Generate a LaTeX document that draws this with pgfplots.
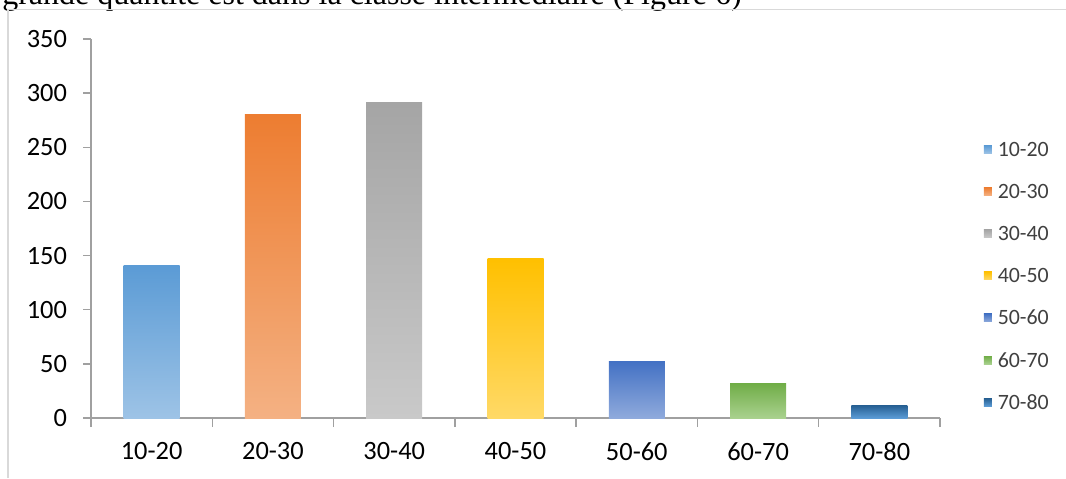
\documentclass[border=0pt]{standalone}
\usepackage{pgfplots}
\pgfplotsset{compat=1.18}
\usepackage{fontspec}
\setmainfont{Carlito}
\newfontfamily\serif{Liberation Serif}
\definecolor{axgray}{RGB}{160,160,160}
\definecolor{framegray}{RGB}{217,217,217}
\definecolor{legtext}{RGB}{64,64,64}
\definecolor{cAt}{RGB}{91,155,213}\definecolor{cAb}{RGB}{157,195,230}
\definecolor{cBt}{RGB}{237,125,49}\definecolor{cBb}{RGB}{244,177,131}
\definecolor{cCt}{RGB}{165,165,165}\definecolor{cCb}{RGB}{201,201,201}
\definecolor{cDt}{RGB}{255,192,0}\definecolor{cDb}{RGB}{255,217,102}
\definecolor{cEt}{RGB}{68,114,196}\definecolor{cEb}{RGB}{143,170,220}
\definecolor{cFt}{RGB}{112,173,71}\definecolor{cFb}{RGB}{169,209,142}
\definecolor{cGt}{RGB}{37,94,145}\definecolor{cGb}{RGB}{91,155,213}
\begin{document}
\begin{tikzpicture}
\useasboundingbox (0,0) rectangle (799.5pt,358.5pt);
\clip (0,0) rectangle (799.5pt,358.5pt);
\node[anchor=base west,inner sep=0pt,font=\serif\fontsize{24}{28}\selectfont] at (1.5pt,355pt) {grande quantité est dans la classe intermédiaire (Figure 6)};
\draw[framegray,line width=1.1pt] (6pt,0pt) -- (6pt,351.4pt) -- (799.5pt,351.4pt);
\begin{axis}[
  at={(68.25pt,45pt)}, anchor=south west,
  scale only axis, width=636.75pt, height=284.25pt,
  xmin=-0.5, xmax=6.5, ymin=0, ymax=350,
  axis lines*=left,
  axis line style={axgray,line width=1.1pt},
  tick style={axgray,line width=1.1pt},
  tick align=outside,
  major tick length=6pt,
  minor tick length=6.75pt,
  ytick={0,50,...,350},
  xtick={0,...,6},
  xticklabels={10-20,20-30,30-40,40-50,50-60,60-70,70-80},
  major x tick style={draw=none},
  minor xtick={-0.5,0.5,...,6.5},
  ticklabel style={font=\fontsize{19.8}{23}\selectfont, text=black},
  /pgf/number format/assume math mode=true,
  yticklabel style={xshift=-8.5pt},
  xticklabel style={yshift=-9pt},
  legend style={draw=none, fill=none, at={(1.0465,0.377)}, anchor=west,
    font=\fontsize{16.4}{18}\selectfont, text=legtext,
    nodes={inner sep=0pt, text height=11.5pt, text depth=0pt},
    row sep=20.1pt, column sep=0pt},
  legend cell align=left,
  legend image code/.code={\fill[#1,draw=none] (0pt,-3.5pt) rectangle (6pt,2.5pt); \path (10.5pt,0pt);},
]
\addplot[ybar, bar width=42pt, bar shift=0pt, draw=none, top color=cAt, bottom color=cAb] coordinates {(0,141)};
\addplot[ybar, bar width=42pt, bar shift=0pt, draw=none, top color=cBt, bottom color=cBb] coordinates {(1,280)};
\addplot[ybar, bar width=42pt, bar shift=0pt, draw=none, top color=cCt, bottom color=cCb] coordinates {(2,291)};
\addplot[ybar, bar width=42pt, bar shift=0pt, draw=none, top color=cDt, bottom color=cDb] coordinates {(3,147)};
\addplot[ybar, bar width=42pt, bar shift=0pt, draw=none, top color=cEt, bottom color=cEb] coordinates {(4,52)};
\addplot[ybar, bar width=42pt, bar shift=0pt, draw=none, top color=cFt, bottom color=cFb] coordinates {(5,32)};
\addplot[ybar, bar width=42pt, bar shift=0pt, draw=none, top color=cGt, bottom color=cGb] coordinates {(6,12)};
\legend{10-20,20-30,30-40,40-50,50-60,60-70,70-80}
\end{axis}
\end{tikzpicture}
\end{document}
